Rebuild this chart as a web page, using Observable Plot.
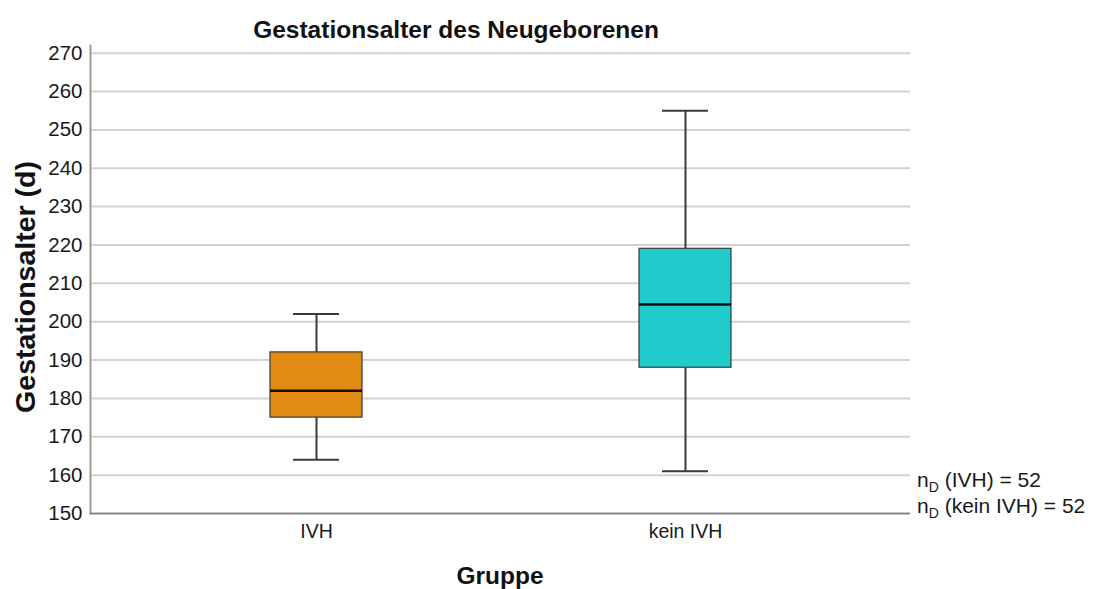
<!DOCTYPE html>
<html>
<head>
<meta charset="utf-8">
<script src="https://cdn.jsdelivr.net/npm/d3@7"></script>
<script src="https://cdn.jsdelivr.net/npm/@observablehq/plot@0.6"></script>
<style>
  html, body { margin: 0; padding: 0; background: #fff; }
  #chart svg { display: block; }
</style>
</head>
<body>
<div id="chart"></div>
<script>
// Gestational age (days) by group: box plot summary statistics
const groups = ["IVH", "kein IVH"];
const lowerWhisker = [164, 161];
const q1 = [175, 188];
const median = [182, 204.5];
const q3 = [192, 219];
const upperWhisker = [202, 255];
const boxColors = ["#E28B12", "#20CBCB"];
const yTicks = [150, 160, 170, 180, 190, 200, 210, 220, 230, 240, 250, 260, 270];
const sampleNotes = [
  {label: "IVH", n: 52},
  {label: "kein IVH", n: 52}
];

const stats = groups.map((g, i) => ({
  group: g,
  lo: lowerWhisker[i],
  q1: q1[i],
  med: median[i],
  q3: q3[i],
  hi: upperWhisker[i]
}));

const font = "'Liberation Sans', Arial, sans-serif";
const W = 1093, H = 589;

const chart = Plot.plot({
  width: W,
  height: H,
  marginLeft: 90,
  marginRight: 183,
  marginTop: 45,
  marginBottom: 76,
  style: {fontFamily: font, color: "#1a1a1a", background: "#fff"},
  x: {type: "band", domain: groups, paddingInner: 0.751, paddingOuter: 0.4865, label: null},
  y: {domain: [150, 272], label: null},
  color: {domain: groups, range: boxColors},
  marks: [
    Plot.gridY(yTicks, {stroke: "#d2d2d2", strokeOpacity: 1, strokeWidth: 2}),
    Plot.axisY(yTicks, {tickSize: 0, tickPadding: 8, fontSize: 20.5, label: null}),
    Plot.axisX({tickSize: 0, tickPadding: 11, fontSize: 19.5, label: null}),
    Plot.frame({anchor: "left", stroke: "#9a9a9a", strokeWidth: 2}),
    Plot.ruleY([150], {stroke: "#7a7a7a", strokeWidth: 1.6}),
    // whiskers
    Plot.ruleX(stats, {x: "group", y1: "lo", y2: "q1", stroke: "#3a3a3a", strokeWidth: 2}),
    Plot.ruleX(stats, {x: "group", y1: "q3", y2: "hi", stroke: "#3a3a3a", strokeWidth: 2}),
    Plot.tickY(stats, {x: "group", y: "lo", insetLeft: 23, insetRight: 23, stroke: "#3a3a3a", strokeWidth: 2}),
    Plot.tickY(stats, {x: "group", y: "hi", insetLeft: 23, insetRight: 23, stroke: "#3a3a3a", strokeWidth: 2}),
    // boxes
    Plot.barY(stats, {x: "group", y1: "q1", y2: "q3", fill: "group", stroke: "#3a3a3a", strokeWidth: 1.2}),
    // medians
    Plot.tickY(stats, {x: "group", y: "med", stroke: "#111", strokeWidth: 2.5})
  ]
});

document.getElementById("chart").appendChild(chart);

const svg = d3.select(chart);

// title
svg.append("text")
  .attr("x", 456).attr("y", 38)
  .attr("text-anchor", "middle")
  .attr("font-family", font).attr("font-weight", "bold").attr("font-size", 24.5)
  .attr("fill", "#111")
  .text("Gestationsalter des Neugeborenen");

// y-axis title
svg.append("text")
  .attr("transform", "translate(35,287) rotate(-90)")
  .attr("text-anchor", "middle")
  .attr("font-family", font).attr("font-weight", "bold").attr("font-size", 28.5)
  .attr("fill", "#111")
  .text("Gestationsalter (d)");

// x-axis title
svg.append("text")
  .attr("x", 500).attr("y", 584)
  .attr("text-anchor", "middle")
  .attr("font-family", font).attr("font-weight", "bold").attr("font-size", 24.5)
  .attr("fill", "#111")
  .text("Gruppe");

// sample-size notes with subscript D
sampleNotes.forEach((d, i) => {
  const t = svg.append("text")
    .attr("x", 917).attr("y", 487 + i * 26)
    .attr("text-anchor", "start")
    .attr("font-family", font).attr("font-size", 21)
    .attr("fill", "#1a1a1a");
  t.append("tspan").text("n");
  t.append("tspan").attr("dy", 5).attr("font-size", 14).text("D");
  t.append("tspan").attr("dy", -5).text(` (${d.label}) = ${d.n}`);
});
</script>
</body>
</html>
